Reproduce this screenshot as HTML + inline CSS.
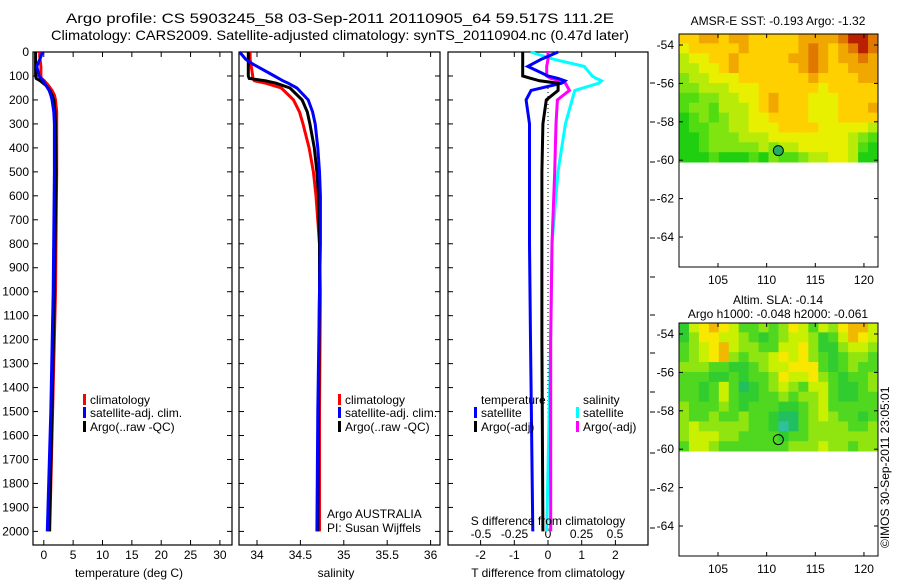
<!DOCTYPE html>
<html><head><meta charset="utf-8"><style>
body{margin:0;background:#fff;width:900px;height:580px;overflow:hidden}
svg text{font-family:"Liberation Sans",sans-serif;fill:#000}
</style></head><body>
<svg id="fig" width="900" height="580" viewBox="0 0 900 580" xmlns="http://www.w3.org/2000/svg">
<text x="340" y="23" font-size="14" text-anchor="middle" textLength="548" lengthAdjust="spacingAndGlyphs">Argo profile: CS 5903245_58 03-Sep-2011 20110905_64 59.517S 111.2E</text>
<text x="340" y="40" font-size="14" text-anchor="middle" textLength="578" lengthAdjust="spacingAndGlyphs">Climatology: CARS2009. Satellite-adjusted climatology: synTS_20110904.nc (0.47d later)</text>
<g id="g"></g>
<text x="129" y="577" font-size="12" text-anchor="middle">temperature (deg C)</text>
<text x="336" y="577" font-size="12" text-anchor="middle">salinity</text>
<text x="548" y="577" font-size="12" text-anchor="middle">T difference from climatology</text>
<text x="548" y="525" font-size="12" text-anchor="middle">S difference from climatology</text>
<text x="327" y="518" font-size="12">Argo AUSTRALIA</text>
<text x="327" y="532" font-size="12">PI: Susan Wijffels</text>
<text x="778" y="25" font-size="12" text-anchor="middle">AMSR-E SST: -0.193 Argo: -1.32</text>
<text x="778" y="304" font-size="12" text-anchor="middle">Altim. SLA: -0.14</text>
<text x="778" y="318" font-size="12" text-anchor="middle">Argo h1000: -0.048 h2000: -0.061</text>
<text transform="translate(889,548) rotate(-90)" font-size="12">©IMOS 30-Sep-2011 23:05:01</text>
</svg>
<script>
const depthTicks=[0,100,200,300,400,500,600,700,800,900,1000,1100,1200,1300,1400,1500,1600,1700,1800,1900,2000];
const tempTicks=[0,5,10,15,20,25,30];
const salTicks=[34,34.5,35,35.5,36];
const tdTicks=[-2,-1,0,1,2];
const sdTicks=[-0.5,-0.25,0,0.25,0.5];
const sdTickLabels=["-0.5","-0.25","0","0.25","0.5"];
const tDepth=[0,20,60,100,110,120,140,160,180,200,250,300,500,1000,1500,2000];
const tArgo=[-1.4,-1.4,-1.4,-1.4,-1.3,-0.6,0.4,1.0,1.4,1.7,1.9,2.0,2.1,1.8,1.4,0.95];
const tClim=[-0.7,-0.7,-0.5,-0.5,-0.4,0.1,0.8,1.4,1.8,2.0,2.2,2.2,2.2,2.0,1.5,1.0];
const tSat=[-0.25,-0.5,-1.2,-0.8,-0.5,-0.1,0.4,0.9,1.2,1.4,1.7,1.8,1.8,1.6,1.2,0.6];
const sDepth=[0,30,50,100,110,120,130,150,200,250,300,400,500,600,800,1000,1500,2000];
const sArgo=[33.9,33.9,33.9,33.9,33.91,34.1,34.22,34.38,34.52,34.58,34.61,34.66,34.69,34.71,34.72,34.72,34.71,34.7];
const sClim=[33.92,33.92,33.93,33.95,33.95,33.97,34.1,34.28,34.42,34.49,34.53,34.6,34.65,34.68,34.72,34.73,34.72,34.72];
const sSat=[33.8,33.87,33.95,34.2,34.25,34.3,34.36,34.46,34.59,34.64,34.67,34.7,34.72,34.73,34.73,34.72,34.7,34.69];
const dDepth=[0,30,60,100,110,120,130,160,200,300,500,800,1200,2000];
const dTSat=[0.3,-0.2,-0.6,0.0,0.3,0.5,0.4,-0.5,-0.65,-0.55,-0.55,-0.55,-0.52,-0.45];
const dTArgo=[-0.75,-0.75,-0.75,-0.75,-0.5,-0.25,0.3,0.3,-0.05,-0.15,-0.18,-0.18,-0.18,-0.15];
const dSSat=[-0.13,0.04,0.27,0.33,0.36,0.4,0.38,0.2,0.18,0.13,0.075,0.03,0.02,-0.01];
const dSArgo=[0.0,0.0,-0.01,-0.01,0.02,0.09,0.13,0.16,0.07,0.06,0.05,0.03,0.02,0.02];
const mapLatTicks=[-54,-56,-58,-60,-62,-64];
const mapLonTicks=[105,110,115,120];
const floatLon=111.2, floatLat=-59.5;
const sstGrid=[
[6,6,7,7,6,7,7,6,6,6,6,6,7,7,7,7,8,9,9,8],
[5,6,6,6,6,6,7,6,6,6,6,6,7,8,7,6,7,8,9,8],
[4,5,5,6,6,7,6,6,6,6,6,7,7,8,7,6,7,7,8,7],
[4,4,5,5,6,7,6,6,6,6,6,6,7,8,7,6,6,7,7,7],
[3,4,4,5,5,5,6,6,6,6,6,6,6,7,6,6,6,6,7,7],
[3,3,4,4,4,5,5,5,6,6,6,6,6,6,5,6,6,6,6,6],
[2,2,3,3,4,4,5,5,6,7,6,6,6,5,5,5,6,6,6,6],
[2,3,3,2,4,4,4,5,6,7,6,6,6,5,5,5,6,6,6,7],
[1,2,3,2,3,4,4,5,5,6,6,6,6,5,5,5,6,6,6,6],
[1,2,2,3,3,4,4,5,5,5,6,6,6,6,5,5,5,5,5,4],
[1,1,2,3,3,3,4,4,4,5,5,5,5,5,5,5,5,4,3,2],
[1,1,2,3,3,3,3,3,4,3,4,4,5,5,5,5,5,4,2,1],
[1,1,1,2,1,1,1,2,1,3,2,2,3,4,4,5,5,4,1,1]];
const slaGrid=[
[2,5,6,7,6,5,3,3,4,3,4,6,5,3,5,4,6,7,7,5],
[2,4,6,6,5,5,4,3,2,3,4,5,5,4,2,3,5,7,6,5],
[3,4,5,6,7,5,4,4,3,3,5,5,6,4,2,2,4,5,5,4],
[3,4,5,6,7,4,3,4,4,5,6,5,6,4,3,2,3,4,4,3],
[4,4,4,3,3,2,2,3,4,5,5,6,6,6,3,2,3,4,3,3],
[3,3,3,2,2,3,2,3,3,4,6,5,5,6,4,3,2,3,3,4],
[3,3,2,3,5,3,1,2,3,4,5,4,3,5,5,3,2,2,3,4],
[3,3,2,3,5,3,2,2,3,3,4,3,4,4,5,3,2,2,3,3],
[4,3,3,3,4,3,2,3,3,3,2,2,3,4,5,3,3,3,3,3],
[4,3,3,4,3,3,4,3,3,2,1,1,3,4,5,4,3,3,2,3],
[4,5,4,4,4,4,4,3,3,2,0,1,3,4,4,4,4,3,3,4],
[4,5,5,5,4,4,3,3,3,3,2,3,3,4,4,4,4,4,4,4],
[3,5,5,4,3,3,3,3,3,3,3,4,4,4,5,4,4,3,4,4]];
const sstPal=['#00c020','#20d010','#50dc10','#80e410','#b8ec08','#e8f000','#ffd000','#f0a800','#e07800','#b82000'];
const slaPal=['#30c0a0','#20c060','#30cc30','#50d820','#90e410','#c8f000','#f8e800','#f0b800','#e09000','#c06000'];

const NS='http://www.w3.org/2000/svg';
const G=document.getElementById('g');
function mk(tag,attrs,parent){const e=document.createElementNS(NS,tag);for(const k in attrs)e.setAttribute(k,attrs[k]);(parent||G).appendChild(e);return e;}
const TOP=52,BOT=545;
const dy=d=>52+d*0.2397;
const tx=t=>43.8+t*5.87;
const sx=s=>257+(s-34)*86.8;
const dtx=t=>548+t*33.7;
const dsx=s=>548+s*134;
const panels=[[33,232],[239,440],[448,648]];
panels.forEach((p,i)=>{
  const r=mk('rect',{x:p[0],y:TOP,width:p[1]-p[0],height:BOT-TOP,fill:'none',stroke:'#000','stroke-width':1.2});
  
  
});
depthTicks.forEach(d=>{
  const y=dy(d);
  const t=mk('text',{x:29,y:y+4,'font-size':12,'text-anchor':'end'});t.textContent=d;
  
  
  [[33,38],[227,232],[239,244],[435,440],[448,453]].forEach(s=>{
    const l=mk('line',{x1:s[0],x2:s[1],y1:y,y2:y,stroke:'#000'});
    
    
  });
});
[83,122,162,200,238,277,315,353,392,412,453,490,528].forEach(y=>{
  const l=mk('line',{x1:650,x2:655,y1:y,y2:y,stroke:'#000'});
  
  
});
function xticks(vals,fn,labels,ly){
  vals.forEach((v,i)=>{
    const x=fn(v);
    [[TOP,TOP+5],[BOT-5,BOT]].forEach(s=>{const l=mk('line',{x1:x,x2:x,y1:s[0],y2:s[1],stroke:'#000'});
      
      });
    const t=mk('text',{x:x,y:ly,'font-size':12,'text-anchor':'middle'});t.textContent=labels?labels[i]:v;
    
    
  });
}
xticks(tempTicks,tx,null,559);
xticks(salTicks,sx,null,559);
xticks(tdTicks,dtx,null,559);
sdTicks.forEach((v,i)=>{const t=mk('text',{x:dsx(v),y:538,'font-size':12,'text-anchor':'middle'});t.textContent=sdTickLabels[i];
  
  });
const z=mk('line',{x1:dtx(0),x2:dtx(0),y1:dy(150),y2:dy(2000),stroke:'#000','stroke-dasharray':'1,3'});


function line(depths,vals,fn,color,name){
  const pts=vals.map((v,i)=>fn(v).toFixed(1)+','+dy(depths[i]).toFixed(1)).join(' ');
  const p=mk('polyline',{points:pts,fill:'none',stroke:color,'stroke-width':3,'stroke-linejoin':'miter'});
  
  
}
line(tDepth,tClim,tx,'#f00','temp-climatology-line');
line(tDepth,tArgo,tx,'#000','temp-argo-line');
line(tDepth,tSat,tx,'#00f','temp-satellite-line');
line(sDepth,sClim,sx,'#f00','sal-climatology-line');
line(sDepth,sArgo,sx,'#000','sal-argo-line');
line(sDepth,sSat,sx,'#00f','sal-satellite-line');
line(dDepth,dSSat,dsx,'#0ff','sdiff-satellite-line');
line(dDepth,dSArgo,dsx,'#f0f','sdiff-argo-line');
line(dDepth,dTSat,dtx,'#00f','tdiff-satellite-line');
line(dDepth,dTArgo,dtx,'#000','tdiff-argo-line');
function legend(x,y,color,label,name){
  const r=mk('rect',{x:x,y:y-10,width:3,height:11,fill:color});
  
  
  const t=mk('text',{x:x+7,y:y,'font-size':12});t.textContent=label;
  
  
}
[[83,'temp'],[338,'sal']].forEach(([x,n])=>{
  legend(x,404,'#f00','climatology',n+'-legend-climatology');
  legend(x,417,'#00f','satellite-adj. clim.',n+'-legend-satellite');
  legend(x,431,'#000','Argo(..raw -QC)',n+'-legend-argo');
});
let t1=mk('text',{x:481,y:404,'font-size':12});t1.textContent='temperature';


let t2=mk('text',{x:583,y:404,'font-size':12});t2.textContent='salinity';


legend(474,417,'#00f','satellite','diff-legend-t-satellite');
legend(474,431,'#000','Argo(-adj)','diff-legend-t-argo');
legend(576,417,'#0ff','satellite','diff-legend-s-satellite');
legend(576,431,'#f0f','Argo(-adj)','diff-legend-s-argo');
const lonX=l=>718+(l-105)*9.73;
function drawMap(oy,grid,pal,name,fillMarker){
  const latY=la=>oy+45+(-54-la)*19.2;
  const x0=679,x1=878,y0=latY(-53.4),y1=latY(-60.1);
  const rows=grid.length,cols=grid[0].length,cw=(x1-x0)/cols,ch=(y1-y0)/rows;
  grid.forEach((row,r)=>row.forEach((v,c)=>{
    const e=mk('rect',{x:(x0+c*cw).toFixed(2),y:(y0+r*ch).toFixed(2),width:(cw+0.4).toFixed(2),height:(ch+0.4).toFixed(2),fill:pal[v]});
    
    
  }));
  const b=mk('rect',{x:679,y:oy+34,width:199,height:233,fill:'none',stroke:'#000'});
  
  
  mapLatTicks.forEach(la=>{
    const y=latY(la);
    [[679,683],[874,878]].forEach(s=>{const l=mk('line',{x1:s[0],x2:s[1],y1:y,y2:y,stroke:'#000'});
      
      });
    const t=mk('text',{x:674,y:y+4,'font-size':12,'text-anchor':'end'});t.textContent=la;
    
    
  });
  mapLonTicks.forEach(lo=>{
    const x=lonX(lo);
    [[oy+34,oy+38],[oy+263,oy+267]].forEach(s=>{const l=mk('line',{x1:x,x2:x,y1:s[0],y2:s[1],stroke:'#000'});
      
      });
    const t=mk('text',{x:x,y:oy+284,'font-size':12,'text-anchor':'middle'});t.textContent=lo;
    
    
  });
  const c=mk('circle',{cx:lonX(floatLon),cy:latY(floatLat),r:5,fill:fillMarker?'#20b060':'none',stroke:'#000','stroke-width':1});
  
  
}
drawMap(0,sstGrid,sstPal,'sst-map',true);
drawMap(289,slaGrid,slaPal,'sla-map',false);
</script>
</body></html>
